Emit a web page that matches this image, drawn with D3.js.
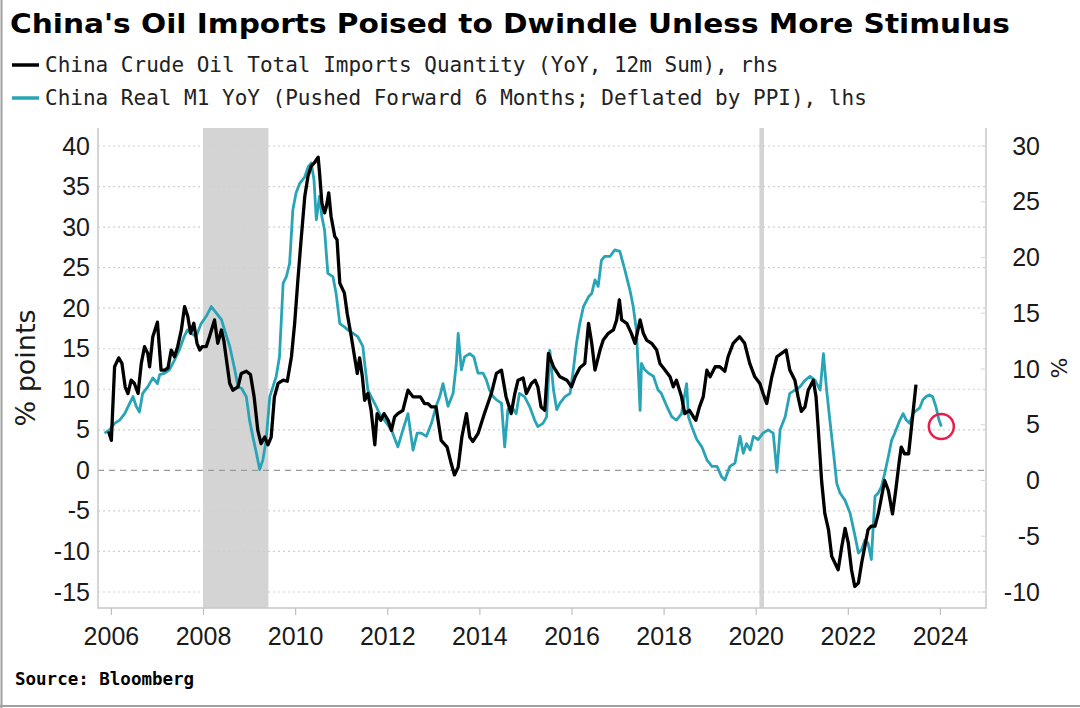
<!DOCTYPE html>
<html><head><meta charset="utf-8">
<script src="https://cdn.jsdelivr.net/npm/d3@7"></script>
<style>body{margin:0;background:#fff}svg{display:block}</style>
</head><body>
<svg id="c" width="1080" height="708"></svg>
<script>
// ---------------- DATA ----------------
const titleText = "China's Oil Imports Poised to Dwindle Unless More Stimulus";
const legendLabels = [
  "China Crude Oil Total Imports Quantity (YoY, 12m Sum), rhs",
  "China Real M1 YoY (Pushed Forward 6 Months; Deflated by PPI), lhs"
];
const sourceText = "Source: Bloomberg";
const leftAxisTitle = "% points";
const rightAxisTitle = "%";

const yearTicks = [2006, 2008, 2010, 2012, 2014, 2016, 2018, 2020, 2022, 2024];
const leftTicks = [-15, -10, -5, 0, 5, 10, 15, 20, 25, 30, 35, 40];
const rightTicks = [-10, -5, 0, 5, 10, 15, 20, 25, 30];
const shadedPeriods = [[2008.0, 2009.42], [2020.08, 2020.18]];

// China crude oil imports YoY (12m sum), right axis, decimal years
const oilDates = [2005.95,2006.01,2006.08,2006.17,2006.24,2006.31,2006.37,2006.44,2006.51,2006.59,2006.66,2006.73,2006.80,2006.84,2006.91,2007.01,2007.09,2007.17,2007.24,2007.31,2007.38,2007.45,2007.53,2007.60,2007.67,2007.73,2007.80,2007.87,2007.93,2007.98,2008.07,2008.14,2008.25,2008.32,2008.40,2008.45,2008.50,2008.58,2008.65,2008.76,2008.83,2008.94,2009.03,2009.11,2009.19,2009.26,2009.34,2009.41,2009.48,2009.55,2009.63,2009.74,2009.83,2009.92,2009.99,2010.06,2010.13,2010.21,2010.28,2010.35,2010.42,2010.50,2010.53,2010.58,2010.64,2010.68,2010.73,2010.78,2010.86,2010.91,2010.97,2011.07,2011.13,2011.22,2011.29,2011.35,2011.40,2011.46,2011.51,2011.58,2011.65,2011.73,2011.78,2011.86,2011.93,2012.02,2012.09,2012.16,2012.23,2012.34,2012.45,2012.56,2012.65,2012.72,2012.81,2012.88,2012.96,2013.06,2013.17,2013.30,2013.39,2013.46,2013.54,2013.62,2013.72,2013.79,2013.86,2013.97,2014.11,2014.26,2014.37,2014.48,2014.58,2014.69,2014.77,2014.84,2014.95,2015.02,2015.13,2015.21,2015.27,2015.34,2015.42,2015.50,2015.61,2015.75,2015.90,2016.00,2016.08,2016.18,2016.29,2016.37,2016.44,2016.51,2016.62,2016.69,2016.80,2016.91,2016.98,2017.04,2017.09,2017.20,2017.30,2017.38,2017.49,2017.56,2017.63,2017.74,2017.85,2017.92,2018.03,2018.14,2018.21,2018.28,2018.39,2018.46,2018.56,2018.65,2018.70,2018.78,2018.86,2018.94,2019.01,2019.12,2019.22,2019.33,2019.40,2019.51,2019.65,2019.76,2019.87,2019.98,2020.09,2020.16,2020.24,2020.35,2020.46,2020.56,2020.66,2020.74,2020.85,2020.92,2020.99,2021.07,2021.14,2021.25,2021.31,2021.36,2021.43,2021.50,2021.58,2021.65,2021.72,2021.79,2021.87,2021.94,2022.01,2022.08,2022.15,2022.23,2022.30,2022.37,2022.44,2022.51,2022.59,2022.66,2022.73,2022.80,2022.88,2022.97,2023.04,2023.11,2023.16,2023.23,2023.32,2023.39,2023.48];
const oilValues = [4.4,3.6,10.2,11.0,10.5,8.4,7.8,9.0,8.7,7.8,10.5,12.0,11.4,10.2,12.9,14.2,9.9,9.9,10.1,11.7,11.1,12.0,13.5,15.6,14.7,13.2,14.1,12.3,11.7,12.0,12.0,12.9,14.4,12.3,13.5,12.6,11.1,8.7,8.1,8.4,9.6,9.8,9.5,7.5,4.5,3.3,3.9,3.2,3.9,7.5,8.7,9.0,8.9,11.1,14.1,18.0,21.6,25.5,27.3,28.2,28.5,29.0,27.6,24.9,24.0,24.6,25.8,23.7,21.9,21.6,17.7,16.8,15.0,12.9,11.1,9.6,11.0,9.3,7.2,7.8,6.3,3.2,6.0,5.4,6.0,5.4,4.5,5.7,6.0,6.3,8.1,7.5,7.5,7.5,6.9,6.9,6.6,6.6,3.6,3.0,1.5,0.5,1.2,3.9,6.0,3.9,3.5,4.2,6.0,7.8,9.6,9.9,7.5,6.0,7.8,9.0,9.2,7.8,8.7,9.0,8.4,6.6,6.3,11.4,10.2,9.3,9.0,8.4,9.3,10.1,10.5,14.1,12.3,9.9,11.7,12.6,13.2,13.5,14.4,16.2,14.4,14.1,13.2,12.3,14.4,13.2,12.6,12.3,11.7,10.5,9.9,9.3,8.4,9.0,7.5,6.0,6.3,5.7,5.4,6.6,7.5,9.9,9.3,10.2,10.2,9.8,11.1,12.3,12.9,12.3,10.5,9.3,8.7,7.8,6.9,9.3,11.1,11.4,11.7,9.9,9.0,7.5,6.2,6.6,8.1,9.0,7.5,4.5,0.0,-2.95,-4.4,-6.8,-7.4,-8.0,-5.9,-4.3,-5.6,-8.0,-9.5,-9.2,-7.4,-5.9,-4.4,-4.1,-4.1,-3.0,-1.5,0.0,-0.9,-3.0,-0.9,1.5,3.0,2.4,2.4,5.1,8.6];

// China real M1 YoY pushed forward 6 months, left axis, decimal years
const m1Dates = [2005.86,2005.97,2006.08,2006.19,2006.30,2006.41,2006.48,2006.55,2006.62,2006.69,2006.80,2006.91,2007.01,2007.06,2007.17,2007.27,2007.38,2007.49,2007.59,2007.66,2007.74,2007.85,2007.96,2008.07,2008.18,2008.29,2008.40,2008.47,2008.58,2008.69,2008.76,2008.84,2008.94,2009.01,2009.08,2009.16,2009.23,2009.30,2009.37,2009.45,2009.54,2009.59,2009.66,2009.74,2009.81,2009.88,2009.95,2010.02,2010.10,2010.21,2010.28,2010.35,2010.41,2010.46,2010.53,2010.58,2010.64,2010.71,2010.82,2010.89,2010.97,2011.07,2011.15,2011.26,2011.36,2011.47,2011.51,2011.58,2011.65,2011.76,2011.83,2011.94,2012.09,2012.23,2012.34,2012.45,2012.56,2012.65,2012.74,2012.85,2012.96,2013.06,2013.14,2013.21,2013.32,2013.43,2013.50,2013.54,2013.61,2013.68,2013.79,2013.88,2013.97,2014.08,2014.15,2014.22,2014.30,2014.37,2014.48,2014.55,2014.62,2014.69,2014.80,2014.87,2014.98,2015.09,2015.20,2015.27,2015.38,2015.46,2015.53,2015.61,2015.68,2015.75,2015.86,2015.97,2016.04,2016.11,2016.18,2016.26,2016.37,2016.44,2016.51,2016.58,2016.65,2016.72,2016.84,2016.94,2017.05,2017.16,2017.27,2017.34,2017.41,2017.49,2017.52,2017.59,2017.67,2017.78,2017.88,2017.95,2018.07,2018.18,2018.28,2018.39,2018.50,2018.54,2018.61,2018.72,2018.83,2018.94,2019.05,2019.16,2019.26,2019.33,2019.44,2019.55,2019.66,2019.73,2019.80,2019.88,2019.95,2020.05,2020.16,2020.27,2020.38,2020.46,2020.53,2020.64,2020.74,2020.85,2020.96,2021.07,2021.18,2021.29,2021.40,2021.47,2021.54,2021.61,2021.69,2021.76,2021.83,2021.94,2022.05,2022.16,2022.23,2022.30,2022.37,2022.44,2022.51,2022.59,2022.66,2022.73,2022.80,2022.88,2022.95,2023.02,2023.13,2023.20,2023.27,2023.34,2023.42,2023.49,2023.56,2023.63,2023.70,2023.77,2023.84,2023.91,2023.98,2024.03];
const m1Values = [4.6,5.0,5.8,6.2,7.0,8.3,9.1,7.9,7.2,9.5,10.3,11.4,10.7,11.8,12.0,12.4,13.6,14.9,16.5,17.3,16.9,16.5,18.1,19.0,20.2,19.4,18.6,17.3,15.3,12.4,10.3,10.1,9.1,6.2,4.2,2.1,0.1,1.3,3.7,9.1,10.7,11.6,14.0,23.1,23.9,25.5,32.1,34.2,35.4,36.2,37.4,37.9,35.8,30.9,33.8,31.3,29.6,24.3,23.9,21.8,18.1,17.7,17.3,16.9,16.5,15.3,13.2,9.9,9.1,7.9,7.0,6.2,5.0,2.9,5.0,7.0,2.5,4.6,4.6,4.2,5.8,7.9,9.1,10.7,7.9,9.5,13.2,16.9,12.4,14.0,14.4,14.0,12.0,12.0,11.2,9.9,9.1,8.7,8.3,2.9,7.5,7.9,7.0,9.5,9.1,7.9,6.2,5.4,5.8,6.6,14.8,9.9,7.5,8.3,9.1,9.5,12.4,15.7,18.1,20.2,21.4,21.8,23.5,22.7,25.9,26.4,26.4,27.2,27.0,24.7,22.2,20.2,17.3,7.4,13.2,12.4,12.0,11.6,9.9,9.5,7.9,6.6,6.2,7.0,10.7,6.6,5.4,3.8,2.9,1.3,0.5,0.5,-0.8,-1.2,0.5,0.9,4.2,2.1,3.3,2.5,4.2,3.8,4.6,5.0,4.6,-0.2,5.0,6.6,9.5,9.9,10.3,11.1,11.6,11.1,9.9,14.4,9.9,6.2,2.1,-1.6,-2.8,-3.7,-5.3,-8.2,-10.2,-9.8,-8.6,-9.0,-11.0,-3.2,-2.8,-2.0,-0.4,1.7,3.7,4.6,6.2,7.0,6.2,5.8,7.0,7.4,7.7,8.7,9.1,9.3,9.1,7.9,6.2,5.4];

// ---------------- CHART ----------------
const svg = d3.select("#c");
const W = 1080, H = 708;
const plot = {left: 98, right: 986, top: 128, bottom: 608};
const tickFont = "Liberation Sans, Arial, sans-serif";

const x = d3.scaleLinear().domain([2005.72, 2025.0]).range([plot.left, plot.right]);
const yL = d3.scaleLinear().domain([-15, 40]).range([592, 146]);
const yR = d3.scaleLinear().domain([-10, 30]).range([592, 146]);

svg.append("rect").attr("width", W).attr("height", H).attr("fill", "#fff");

// outer frame (left + bottom)
svg.append("line").attr("x1", 1.5).attr("x2", 1.5).attr("y1", 0).attr("y2", H).attr("stroke", "#a0a0a0").attr("stroke-width", 2);
svg.append("line").attr("x1", 0).attr("x2", W).attr("y1", 706).attr("y2", 706).attr("stroke", "#a0a0a0").attr("stroke-width", 2);

// title
svg.append("text").attr("x", 10).attr("y", 33)
  .attr("font-family", "DejaVu Sans, Verdana, sans-serif").attr("font-weight", "bold")
  .attr("font-size", 26).attr("fill", "#000")
  .attr("textLength", 1000).attr("lengthAdjust", "spacingAndGlyphs")
  .text(titleText);

// legend
const legendColors = ["#000000", "#28a4b6"];
legendLabels.forEach((lab, i) => {
  const ly = 65 + i * 33;
  svg.append("line").attr("x1", 12).attr("x2", 39).attr("y1", ly).attr("y2", ly)
    .attr("stroke", legendColors[i]).attr("stroke-width", 3.5);
  svg.append("text").attr("x", 45).attr("y", ly + 7)
    .attr("font-family", "DejaVu Sans Mono, Liberation Mono, monospace")
    .attr("font-size", 21).attr("fill", "#222")
    .text(lab);
});

// shading
const g = svg.append("g");
shadedPeriods.forEach(p => {
  g.append("rect").attr("x", x(p[0])).attr("width", x(p[1]) - x(p[0]))
    .attr("y", plot.top).attr("height", plot.bottom - plot.top)
    .attr("fill", "#d4d4d4");
});

// gridlines
leftTicks.forEach(t => {
  g.append("line").attr("x1", plot.left).attr("x2", plot.right)
    .attr("y1", yL(t)).attr("y2", yL(t))
    .attr("stroke", t === 0 ? "#9a9a9a" : "#cfcfcf")
    .attr("stroke-width", t === 0 ? 1.3 : 1.2)
    .attr("stroke-dasharray", t === 0 ? "6,5" : "2,3");
});

// plot frame (left, right, bottom)
svg.append("path")
  .attr("d", `M${plot.left},${plot.top}V${plot.bottom}H${plot.right}V${plot.top}`)
  .attr("fill", "none").attr("stroke", "#c8c8c8").attr("stroke-width", 1.5);

// clip
svg.append("clipPath").attr("id", "clip").append("rect")
  .attr("x", plot.left).attr("y", plot.top).attr("width", plot.right - plot.left).attr("height", plot.bottom - plot.top);

const m1Data = m1Dates.map((d, i) => [d, m1Values[i]]);
const oilData = oilDates.map((d, i) => [d, oilValues[i]]);

svg.append("path").datum(m1Data).attr("clip-path", "url(#clip)")
  .attr("fill", "none").attr("stroke", legendColors[1]).attr("stroke-width", 2.8)
  .attr("stroke-linejoin", "round")
  .attr("d", d3.line().x(d => x(d[0])).y(d => yL(d[1])));

svg.append("path").datum(oilData).attr("clip-path", "url(#clip)")
  .attr("fill", "none").attr("stroke", legendColors[0]).attr("stroke-width", 3.3)
  .attr("stroke-linejoin", "round")
  .attr("d", d3.line().x(d => x(d[0])).y(d => yR(d[1])));

// red circle on the latest M1 point
const lastM1 = m1Data[m1Data.length - 1];
svg.append("circle").attr("cx", x(lastM1[0])).attr("cy", yL(lastM1[1]))
  .attr("r", 12.5).attr("fill", "none").attr("stroke", "#ea1c4b").attr("stroke-width", 2.5);

// axes
const axL = svg.append("g").attr("transform", `translate(${plot.left},0)`)
  .call(d3.axisLeft(yL).tickValues(leftTicks).tickSize(0).tickPadding(8).tickFormat(d => String(d)));
const axR = svg.append("g").attr("transform", `translate(1048,0)`)
  .call(d3.axisLeft(yR).tickValues(rightTicks).tickSize(0).tickPadding(8).tickFormat(d => String(d)));
const axX = svg.append("g").attr("transform", `translate(0,${plot.bottom})`)
  .call(d3.axisBottom(x).tickValues(yearTicks).tickSize(7).tickPadding(12).tickFormat(d3.format("d")));

[axL, axR, axX].forEach(a => {
  a.select(".domain").remove();
  a.selectAll("text").attr("font-family", tickFont).attr("font-size", 25).attr("fill", "#1a1a1a");
  a.selectAll("line").attr("stroke", "#c0c0c0").attr("stroke-width", 1.2);
});

// inner right ticks
rightTicks.forEach(t => {
  svg.append("line").attr("x1", plot.right - 5).attr("x2", plot.right)
    .attr("y1", yR(t)).attr("y2", yR(t)).attr("stroke", "#dcdcdc").attr("stroke-width", 1.2);
});

// axis titles
svg.append("text").attr("transform", `translate(35,368) rotate(-90)`)
  .attr("text-anchor", "middle").attr("font-family", "DejaVu Sans, sans-serif")
  .attr("font-size", 27).attr("fill", "#1a1a1a").text(leftAxisTitle);
svg.append("text").attr("transform", `translate(1051,368) rotate(90)`)
  .attr("text-anchor", "middle").attr("font-family", "DejaVu Sans, sans-serif")
  .attr("font-size", 22).attr("fill", "#1a1a1a").text(rightAxisTitle);

// source
svg.append("text").attr("x", 15).attr("y", 685)
  .attr("font-family", "DejaVu Sans Mono, Liberation Mono, monospace").attr("font-weight", "bold")
  .attr("font-size", 17.5).attr("fill", "#000").text(sourceText);
</script>
</body></html>
